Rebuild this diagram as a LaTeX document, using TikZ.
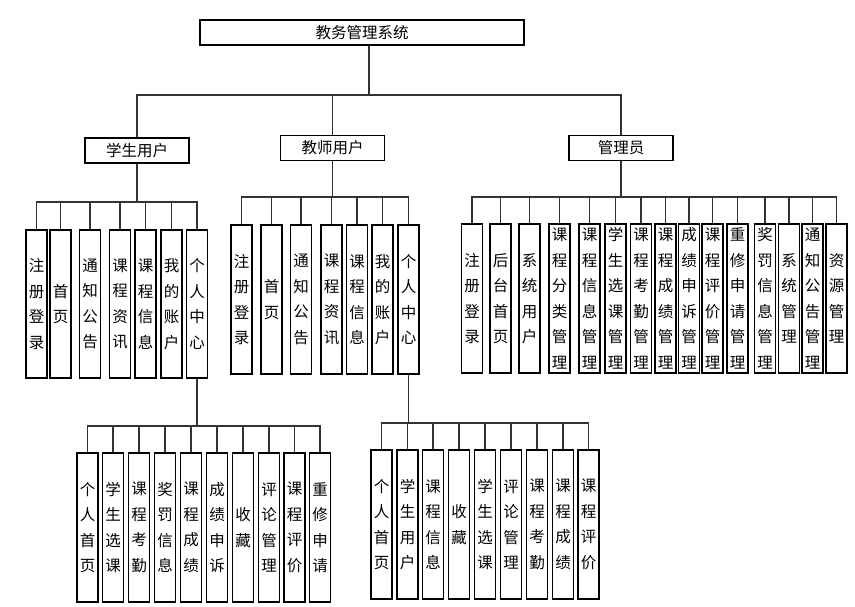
\documentclass[tikz,border=0pt]{standalone}
\usepackage{fontspec}
\newfontfamily\cjk{Noto Sans CJK SC}
\usetikzlibrary{calc}
\begin{document}
\begin{tikzpicture}[x=1pt,y=-1pt,
  box/.style={draw=black, line width=1.1pt, fill=white, inner sep=0pt, font=\cjk\fontsize{15.5}{25.5}\selectfont},
  hbox/.style={box, minimum width=104pt, minimum height=25pt},
  vbox/.style={box, minimum width=21pt, minimum height=149pt, align=center},
  conn/.style={draw=black!80, line width=1.1pt}]
\useasboundingbox (0,0) rectangle (855,606);
% top
\node[box, minimum width=324pt, minimum height=25pt] (top) at (362,32.5) {教务管理系统};
\node[hbox] (stu) at (137,150.5) {学生用户};
\node[hbox] (tea) at (332.5,148) {教师用户};
\node[hbox] (adm) at (621,148) {管理员};
\coordinate (b0) at (369,95);
\draw[conn] ($(top.south)+(7,0)$) -- (b0);
\draw[conn] (stu.north) |- (b0) -| (adm.north);
\draw[conn] (tea.north) -- (tea.north |- b0);
% student children
\foreach \n/\x/\t in {1/36.5/注\\册\\登\\录, 2/60.5/首\\页, 3/90/通\\知\\公\\告, 4/120/课\\程\\资\\讯, 5/145.5/课\\程\\信\\息, 6/171.5/我\\的\\账\\户, 7/197/个\\人\\中\\心}
  \node[vbox, minimum height=148pt] (s\n) at (\x,304) {\t};
\coordinate (sb) at (137,202);
\draw[conn] (stu.south) -- (sb);
\draw[conn] (s1.north) |- (sb) -| (s7.north);
\foreach \n in {2,...,6} \draw[conn] (s\n.north) -- (s\n.north |- sb);
% teacher children
\foreach \n/\x/\t in {1/241.5/注\\册\\登\\录, 2/271.5/首\\页, 3/301/通\\知\\公\\告, 4/331.5/课\\程\\资\\讯, 5/357/课\\程\\信\\息, 6/382.5/我\\的\\账\\户, 7/408.5/个\\人\\中\\心}
  \node[vbox] (t\n) at (\x,299.5) {\t};
\coordinate (tb) at (332.5,197);
\draw[conn] (tea.south) -- (tb);
\draw[conn] (t1.north) |- (tb) -| (t7.north);
\foreach \n in {2,...,6} \draw[conn] (t\n.north) -- (t\n.north |- tb);
% admin children
\foreach \n/\x/\t in {1/472/注\\册\\登\\录, 2/500.5/后\\台\\首\\页, 3/529.5/系\\统\\用\\户, 4/559.5/课\\程\\分\\类\\管\\理, 5/589.5/课\\程\\信\\息\\管\\理, 6/615.5/学\\生\\选\\课\\管\\理, 7/641/课\\程\\考\\勤\\管\\理, 8/665.5/课\\程\\成\\绩\\管\\理, 9/689/成\\绩\\申\\诉\\管\\理, 10/712.5/课\\程\\评\\价\\管\\理, 11/737.5/重\\修\\申\\请\\管\\理, 12/765/奖\\罚\\信\\息\\管\\理, 13/789/系\\统\\管\\理, 14/812.5/通\\知\\公\\告\\管\\理, 15/836.5/资\\源\\管\\理}
  \node[vbox] (a\n) at (\x,298.5) {\t};
\coordinate (ab) at (621,197);
\draw[conn] (adm.south) -- (ab);
\draw[conn] (a1.north) |- (ab) -| (a15.north);
\foreach \n in {2,...,14} \draw[conn] (a\n.north) -- (a\n.north |- ab);
% student personal center children
\foreach \n/\x/\t in {1/87.5/个\\人\\首\\页, 2/113/学\\生\\选\\课, 3/139/课\\程\\考\\勤, 4/165/奖\\罚\\信\\息, 5/191/课\\程\\成\\绩, 6/217/成\\绩\\申\\诉, 7/243/收\\藏, 8/269/评\\论\\管\\理, 9/294.5/课\\程\\评\\价, 10/320/重\\修\\申\\请}
  \node[vbox] (p\n) at (\x,527.5) {\t};
\coordinate (pb) at (197,426);
\draw[conn] (s7.south) -- (pb);
\draw[conn] (p1.north) |- (pb) -| (p10.north);
\foreach \n in {2,...,9} \draw[conn] (p\n.north) -- (p\n.north |- pb);
% teacher personal center children
\foreach \n/\x/\t in {1/381.5/个\\人\\首\\页, 2/407.5/学\\生\\用\\户, 3/433/课\\程\\信\\息, 4/459/收\\藏, 5/485/学\\生\\选\\课, 6/511/评\\论\\管\\理, 7/537/课\\程\\考\\勤, 8/563/课\\程\\成\\绩, 9/588.5/课\\程\\评\\价}
  \node[vbox] (q\n) at (\x,524.5) {\t};
\coordinate (qb) at (408.5,423);
\draw[conn] (t7.south) -- (qb);
\draw[conn] (q1.north) |- (qb) -| (q9.north);
\foreach \n in {2,...,8} \draw[conn] (q\n.north) -- (q\n.north |- qb);
\end{tikzpicture}
\end{document}
